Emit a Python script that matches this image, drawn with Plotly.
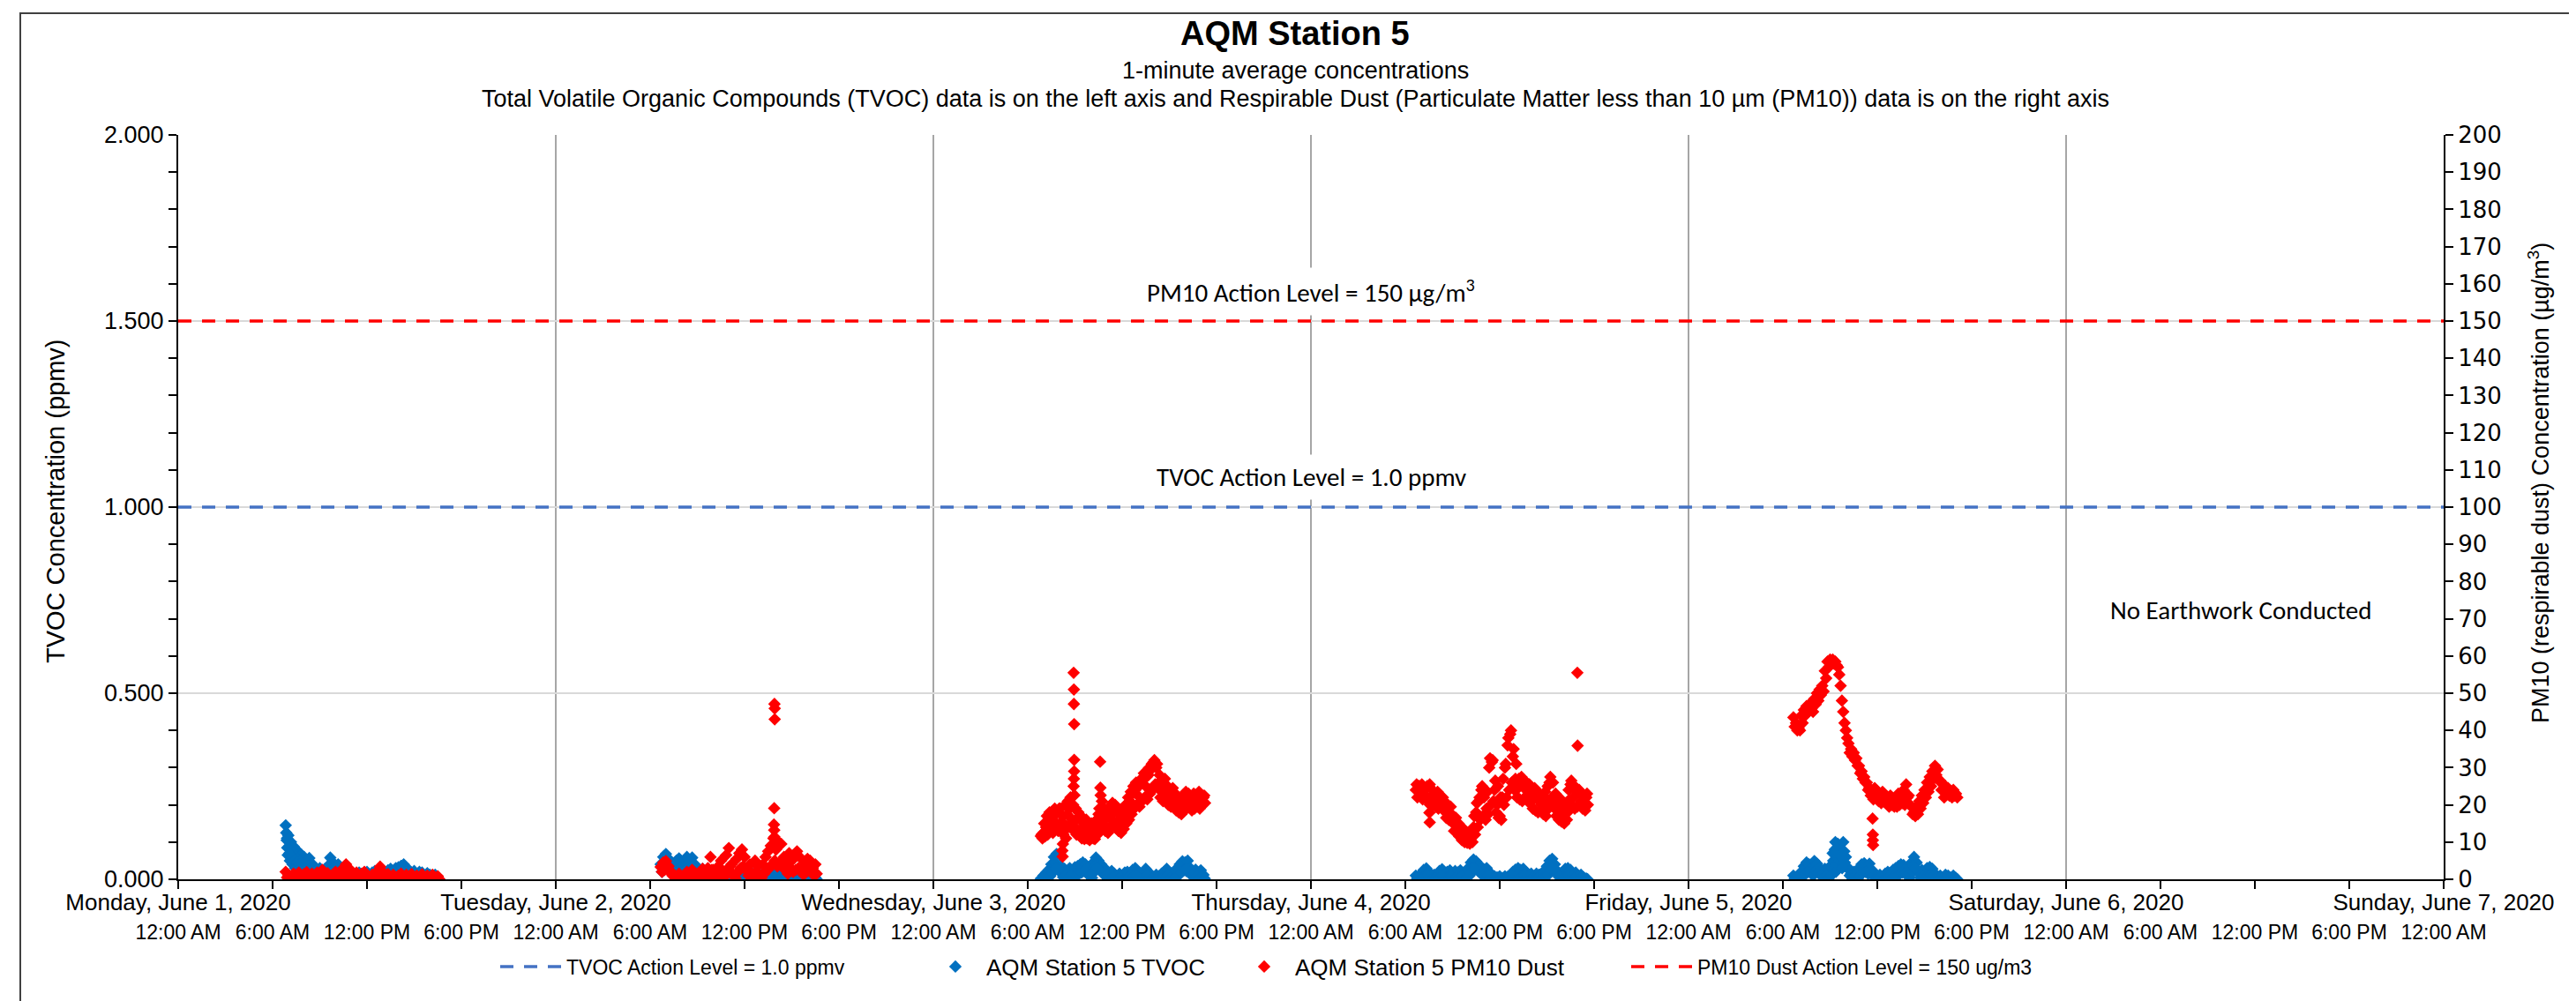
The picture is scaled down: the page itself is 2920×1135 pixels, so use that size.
import pandas as pd
import plotly.graph_objects as go

# ---------------- data ----------------
x_range = ["2020-06-01 00:00", "2020-06-07 00:00"]

day_tick_vals = ["2020-06-01", "2020-06-02", "2020-06-03", "2020-06-04",
                 "2020-06-05", "2020-06-06", "2020-06-07"]
day_tick_text = ["Monday, June 1, 2020", "Tuesday, June 2, 2020", "Wednesday, June 3, 2020",
                 "Thursday, June 4, 2020", "Friday, June 5, 2020", "Saturday, June 6, 2020",
                 "Sunday, June 7, 2020"]
time_tick_text = ["12:00 AM", "6:00 AM", "12:00 PM", "6:00 PM",
                  "12:00 AM", "6:00 AM", "12:00 PM", "6:00 PM",
                  "12:00 AM", "6:00 AM", "12:00 PM", "6:00 PM",
                  "12:00 AM", "6:00 AM", "12:00 PM", "6:00 PM",
                  "12:00 AM", "6:00 AM", "12:00 PM", "6:00 PM",
                  "12:00 AM", "6:00 AM", "12:00 PM", "6:00 PM",
                  "12:00 AM"]
tvoc_ticks = [0.0, 0.5, 1.0, 1.5, 2.0]
pm10_ticks = [0, 10, 20, 30, 40, 50, 60, 70, 80, 90, 100, 110, 120, 130, 140, 150,
              160, 170, 180, 190, 200]

tvoc_action_level = 1.0
pm10_action_level = 150

# ---- readings every 10 minutes (main), plus readings offset by +5 min ("low")
# ---- and +3 min ("high") that show the spread of the 1-minute data
mon_start = "2020-06-01 06:50"
mon_tvoc = [0.145, 0.118, 0.100, 0.088, 0.080, 0.072, 0.066, 0.060, 0.048, 0.057,
            0.042, 0.030, 0.022, 0.030, 0.012, 0.028, 0.035, 0.058, 0.045, 0.020,
            0.040, 0.030, 0.010, 0.025, 0.005, 0.015, 0.002, 0.012, 0.018, 0.004,
            0.015, 0.020, 0.008, 0.018, 0.022, 0.010, 0.020, 0.025, 0.012, 0.024,
            0.028, 0.015, 0.030, 0.032, 0.036, 0.040, 0.030, 0.025, 0.018, 0.022,
            0.010, 0.020, 0.018, 0.008, 0.016, 0.012, 0.004, 0.012, 0.003]
mon_tvoc_low = [0.110, 0.090, 0.075, 0.062, 0.055, 0.048, 0.042, 0.038, 0.030, 0.025,
                0.020, 0.012, 0.006, 0.010, 0.002, 0.008, 0.015, 0.030, 0.020, 0.005,
                0.015, 0.008, 0.000, 0.006, 0.000, 0.004, 0.000, 0.003, 0.006, 0.000,
                0.004, 0.008, 0.000, 0.005, 0.008, 0.002, 0.006, 0.010, 0.003, 0.008,
                0.012, 0.004, 0.012, 0.015, 0.018, 0.020, 0.012, 0.008, 0.004, 0.007,
                0.002, 0.006, 0.005, 0.000, 0.004, 0.002, 0.000, 0.003, 0.000]
mon_pm10 = [2.0, 1.2, 0.6, 1.5, 0.8, 1.8, 0.5, 1.4, 1.9, 0.6,
            1.5, 0.9, 1.8, 1.2, 2.5, 1.0, 1.6, 0.4, 1.2, 2.0,
            1.0, 2.2, 3.0, 4.0, 3.0, 2.0, 1.0, 1.8, 0.8, 1.5,
            2.0, 1.0, 0.3, 1.2, 0.6, 2.2, 3.4, 2.0, 0.8, 1.4,
            0.5, 1.2, 0.3, 1.0, 1.5, 0.4, 1.2, 0.6, 1.4, 0.3,
            1.0, 0.5, 1.3, 0.2, 1.0, 0.5, 1.2, 0.3, 0.8]
mon_pm10_low = [0.5, 0.2, 0.0, 0.3, 0.1, 0.4, 0.0, 0.2, 0.5, 0.1,
                0.3, 0.0, 0.4, 0.2, 0.6, 0.1, 0.3, 0.0, 0.2, 0.5,
                0.2, 0.6, 1.0, 1.5, 1.0, 0.5, 0.2, 0.4, 0.0, 0.3,
                0.5, 0.1, 0.0, 0.2, 0.0, 0.5, 1.0, 0.4, 0.1, 0.3,
                0.0, 0.2, 0.0, 0.1, 0.3, 0.0, 0.2, 0.0, 0.3, 0.0,
                0.2, 0.0, 0.3, 0.0, 0.1, 0.0, 0.2, 0.0, 0.1]

tue_start = "2020-06-02 06:40"
tue_tvoc = [0.040, 0.060, 0.068, 0.055, 0.040, 0.030, 0.050, 0.056, 0.035, 0.052,
            0.060, 0.045, 0.058, 0.040, 0.030, 0.015, 0.028, 0.010, 0.002, 0.012,
            0.005, 0.015, 0.003, 0.010, 0.000, 0.012, 0.004, 0.010, 0.002, 0.014,
            0.005, 0.012, 0.008, 0.016, 0.004, 0.015, 0.010, 0.018, 0.006, 0.016,
            0.012, 0.020, 0.008, 0.018, 0.022, 0.010, 0.025, 0.015, 0.020, 0.008,
            0.022, 0.014, 0.020, 0.006, 0.018, 0.012, 0.020, 0.008, 0.015, 0.004]
tue_tvoc_low = [0.020, 0.035, 0.045, 0.035, 0.022, 0.012, 0.025, 0.030, 0.015, 0.028,
                0.035, 0.022, 0.030, 0.018, 0.010, 0.004, 0.008, 0.002, 0.000, 0.003,
                0.000, 0.004, 0.000, 0.002, 0.000, 0.003, 0.000, 0.002, 0.000, 0.004,
                0.000, 0.003, 0.001, 0.005, 0.000, 0.004, 0.002, 0.006, 0.000, 0.005,
                0.003, 0.007, 0.001, 0.006, 0.008, 0.002, 0.010, 0.004, 0.007, 0.001,
                0.008, 0.003, 0.007, 0.000, 0.006, 0.003, 0.007, 0.001, 0.004, 0.000]
tue_pm10 = [3.3, 4.5, 4.9, 3.5, 2.0, 1.2, 0.6, 1.5, 0.4, 1.0,
            2.0, 0.6, 2.5, 1.2, 0.3, 1.5, 2.8, 1.5, 3.0, 6.0,
            2.5, 1.2, 3.5, 5.0, 2.0, 6.5, 8.4, 4.0, 1.0, 5.5,
            7.0, 8.0, 6.0, 2.5, 4.0, 1.5, 5.0, 3.5, 1.0, 4.0,
            6.0, 7.5, 9.0, 11.0, 8.0, 10.0, 9.5, 6.0, 4.0, 7.0,
            5.0, 6.0, 7.5, 6.0, 3.0, 4.5, 5.5, 5.0, 3.0, 4.0]
tue_pm10_low = [2.0, 2.5, 2.8, 2.0, 1.0, 0.5, 0.2, 0.4, 0.0, 0.3,
                0.6, 0.1, 0.8, 0.3, 0.0, 0.4, 0.8, 0.5, 1.0, 2.5,
                1.0, 0.5, 1.2, 2.0, 0.8, 2.5, 3.5, 1.5, 0.3, 2.0,
                3.0, 3.5, 2.5, 1.0, 1.5, 0.5, 2.0, 1.2, 0.4, 1.5,
                2.5, 3.0, 4.0, 5.0, 3.5, 4.5, 4.0, 2.5, 1.5, 3.0,
                2.0, 2.5, 3.0, 2.5, 1.2, 2.0, 2.5, 2.0, 1.0, 1.5]

wed_start = "2020-06-03 06:50"
wed_tvoc = [0.002, 0.010, 0.018, 0.025, 0.040, 0.060, 0.068, 0.040, 0.020, 0.028,
            0.015, 0.030, 0.020, 0.032, 0.035, 0.040, 0.045, 0.040, 0.030, 0.020,
            0.045, 0.058, 0.050, 0.040, 0.030, 0.025, 0.010, 0.022, 0.015, 0.005,
            0.015, 0.008, 0.018, 0.020, 0.012, 0.025, 0.030, 0.015, 0.005, 0.018,
            0.028, 0.020, 0.010, 0.004, 0.012, 0.008, 0.015, 0.020, 0.028, 0.015,
            0.005, 0.020, 0.030, 0.040, 0.048, 0.045, 0.050, 0.030, 0.020, 0.026,
            0.010, 0.024, 0.012]
wed_tvoc_low = [0.000, 0.002, 0.005, 0.008, 0.018, 0.030, 0.035, 0.018, 0.006, 0.010,
                0.003, 0.010, 0.005, 0.012, 0.014, 0.018, 0.022, 0.016, 0.010, 0.004,
                0.020, 0.030, 0.025, 0.016, 0.010, 0.006, 0.001, 0.006, 0.003, 0.000,
                0.003, 0.001, 0.005, 0.006, 0.002, 0.008, 0.010, 0.003, 0.000, 0.005,
                0.010, 0.005, 0.001, 0.000, 0.003, 0.001, 0.004, 0.006, 0.010, 0.004,
                0.000, 0.006, 0.010, 0.018, 0.024, 0.022, 0.025, 0.010, 0.005, 0.008,
                0.002, 0.007, 0.002]
wed_pm10 = [11.6, 12.5, 14.0, 16.0, 14.5, 17.0, 15.0, 19.0, 15.5, 13.0,
            17.5, 19.0, 16.0, 14.0, 16.5, 13.0, 12.0, 13.5, 11.5, 12.5,
            11.0, 14.0, 17.5, 19.0, 16.0, 14.0, 17.0, 20.0, 18.0, 15.5,
            14.5, 16.5, 18.0, 19.5, 21.0, 23.0, 24.0, 22.5, 25.5, 27.0,
            25.0, 28.0, 29.5, 31.5, 30.0, 26.0, 24.0, 25.0, 23.0, 22.0,
            23.0, 21.5, 20.5, 19.5, 21.0, 22.5, 21.0, 20.5, 22.0, 21.0,
            22.5, 21.5, 22.0]
wed_pm10_high = [12.0, 15.0, 17.0, 18.0, 17.0, 19.0, 18.0,
                 19.0, 17.0, 20.0, 21.0, 22.0, 20.0, 19.0, 18.0, 17.0,
                 15.0, 16.0, 14.0, 15.0, 14.0, 16.0,
                 19.0, 21.0, 19.0, 18.0, 19.0, 20.5, 20.0, 18.0, 17.5, 19.0, 20.0,
                 22.0, 23.5, 25.0, 26.0, 25.0, 27.0,
                 28.5, 27.5, 30.0, 31.0, 32.0, 31.0, 28.0, 26.5,
                 27.0, 25.0, 24.0, 24.5, 23.0, 22.0, 21.5,
                 22.5, 23.5, 23.0, 22.0, 23.0, 22.5, 23.5, 22.5, 22.5]
wed_pm10_low = [11.0, 11.5, 12.0, 13.0, 12.5, 14.0, 13.0,
                14.0, 12.0, 11.0, 14.5, 15.0, 13.0, 12.0, 13.0, 11.0,
                10.8, 11.0, 10.5, 11.5, 10.8, 12.0,
                14.0, 15.0, 13.0, 12.5, 14.0, 15.5, 14.0, 13.0, 12.5, 13.5, 15.0,
                16.0, 17.5, 19.0, 20.0, 19.5, 21.0,
                22.0, 21.5, 23.0, 24.0, 25.5, 24.5, 22.0, 21.0,
                21.0, 20.0, 19.5, 20.0, 18.5, 18.0, 17.5,
                18.5, 19.0, 19.5, 18.5, 19.0, 19.5, 19.0, 20.0, 20.5]

thu_start = "2020-06-04 06:40"
thu_tvoc = [0.010, 0.005, 0.015, 0.025, 0.029, 0.020, 0.008, 0.012, 0.005, 0.022,
            0.027, 0.015, 0.020, 0.024, 0.010, 0.022, 0.018, 0.024, 0.012, 0.020,
            0.030, 0.045, 0.053, 0.048, 0.040, 0.030, 0.025, 0.030, 0.020, 0.012,
            0.008, 0.005, 0.008, 0.003, 0.008, 0.006, 0.010, 0.020, 0.026, 0.030,
            0.025, 0.028, 0.020, 0.012, 0.015, 0.008, 0.015, 0.012, 0.016, 0.020,
            0.035, 0.050, 0.055, 0.040, 0.022, 0.015, 0.020, 0.028, 0.030, 0.025,
            0.012, 0.018, 0.008, 0.012, 0.005, 0.002]
thu_tvoc_low = [0.002, 0.000, 0.004, 0.008, 0.010, 0.005, 0.001, 0.003, 0.000, 0.006,
                0.009, 0.003, 0.006, 0.008, 0.002, 0.006, 0.004, 0.008, 0.002, 0.005,
                0.010, 0.020, 0.028, 0.024, 0.018, 0.010, 0.008, 0.010, 0.005, 0.002,
                0.001, 0.000, 0.001, 0.000, 0.001, 0.000, 0.002, 0.006, 0.009, 0.012,
                0.008, 0.010, 0.006, 0.002, 0.004, 0.001, 0.004, 0.002, 0.004, 0.006,
                0.012, 0.025, 0.030, 0.018, 0.007, 0.003, 0.006, 0.010, 0.012, 0.008,
                0.002, 0.005, 0.001, 0.003, 0.000, 0.000]
thu_pm10 = [24.0, 25.0, 24.0, 23.0, 24.5, 25.0, 22.0, 23.0, 22.5, 21.5,
            21.0, 19.5, 18.0, 17.5, 16.0, 14.5, 13.0, 12.0, 11.0, 10.5,
            10.0, 11.5, 14.0, 18.0, 21.0, 24.0, 22.0, 19.0, 30.0, 31.5,
            24.0, 20.0, 17.0, 22.0, 30.0, 36.0, 39.0, 33.0, 27.0, 24.5,
            26.0, 25.0, 24.0, 23.0, 22.5, 23.5, 22.0, 21.0, 20.0, 19.0,
            21.5, 26.0, 22.0, 19.0, 20.5, 18.0, 16.0, 17.5, 21.0, 25.5,
            22.0, 24.0, 23.5, 21.0, 20.0, 22.0]
thu_pm10_high = [25.5, 25.0, 25.5, 24.5, 25.0, 25.5, 24.0, 23.0, 23.5, 22.5,
                 22.0, 20.5, 20.0, 19.5, 17.0, 16.5, 15.0, 14.0, 13.5, 12.5,
                 12.0, 13.0, 17.0, 20.5, 22.0, 25.0, 24.0, 23.5, 32.5, 32.0,
                 26.5, 25.0, 22.0, 27.0, 31.0, 38.0, 40.0, 35.0, 31.0, 27.0,
                 27.5, 26.5, 26.0, 25.5, 24.0, 24.5, 23.5, 23.0, 22.5, 23.5,
                 25.0, 27.5, 26.0, 23.0, 22.0, 21.5, 19.0, 20.5, 24.0, 26.5,
                 25.0, 24.5, 24.0, 23.0, 22.5, 23.0]
thu_pm10_low = [22.0, 22.5, 21.5, 22.0, 21.0, 20.5, 20.0, 19.5, 19.0, 19.5,
                18.5, 16.5, 16.0, 15.5, 13.0, 12.8, 11.5, 10.5, 10.0, 9.8,
                9.6, 10.0, 12.0, 14.0, 16.0, 17.0, 16.0, 17.5, 20.0, 21.0,
                18.0, 16.5, 16.0, 20.0, 22.0, 24.0, 26.0, 24.0, 22.0, 21.5,
                21.0, 22.0, 21.0, 20.5, 19.0, 18.5, 18.0, 18.5, 17.5, 17.0,
                19.0, 20.0, 19.5, 17.0, 16.0, 15.5, 15.0, 16.0, 18.5, 20.0,
                19.0, 19.5, 20.0, 19.0, 18.5, 20.0]

fri_start = "2020-06-05 06:40"
fri_tvoc = [0.010, 0.005, 0.012, 0.020, 0.035, 0.045, 0.040, 0.030, 0.049, 0.042,
            0.030, 0.020, 0.028, 0.015, 0.035, 0.070, 0.100, 0.095, 0.080, 0.100,
            0.060, 0.030, 0.015, 0.020, 0.012, 0.030, 0.040, 0.043, 0.035, 0.042,
            0.025, 0.010, 0.008, 0.012, 0.005, 0.015, 0.020, 0.012, 0.025, 0.030,
            0.035, 0.040, 0.038, 0.030, 0.020, 0.045, 0.060, 0.045, 0.015, 0.025,
            0.012, 0.030, 0.033, 0.028, 0.015, 0.008, 0.010, 0.005, 0.012, 0.010,
            0.004, 0.010, 0.003]
fri_tvoc_low = [0.002, 0.000, 0.003, 0.006, 0.015, 0.020, 0.018, 0.010, 0.022, 0.018,
                0.010, 0.005, 0.010, 0.003, 0.012, 0.040, 0.060, 0.055, 0.045, 0.060,
                0.030, 0.010, 0.003, 0.006, 0.002, 0.010, 0.018, 0.020, 0.015, 0.018,
                0.008, 0.002, 0.001, 0.003, 0.000, 0.004, 0.006, 0.002, 0.008, 0.010,
                0.014, 0.018, 0.016, 0.010, 0.005, 0.020, 0.030, 0.020, 0.004, 0.008,
                0.002, 0.010, 0.012, 0.010, 0.004, 0.001, 0.002, 0.000, 0.003, 0.002,
                0.000, 0.002, 0.000]
fri_pm10 = [43.5, 42.0, 40.5, 44.0, 45.5, 46.5, 47.0, 46.0, 48.5, 50.0,
            51.0, 52.0, 56.0, 58.5, 59.0, 59.0, 58.5, 57.0, 52.0, 45.0,
            40.0, 36.5, 35.0, 34.0, 32.5, 30.5, 29.0, 27.5, 26.0, 24.5,
            23.5, 24.5, 23.0, 22.5, 23.5, 22.0, 21.0, 22.5, 21.5, 21.0,
            23.0, 22.0, 24.0, 25.5, 22.5, 19.5, 18.0, 19.5, 21.0, 22.5,
            24.0, 26.0, 27.5, 29.0, 30.5, 29.5, 26.5, 24.0, 25.0, 24.5,
            23.5, 24.0, 23.0]
fri_pm10_low = [41.0, 40.0, 40.0, 42.0, 44.0, 45.0, 46.0, 45.0,
                47.0, 48.0, 49.5, 50.5, 54.0, 57.0, 58.0, 58.0, 57.5, 55.0,
                48.0, 42.0, 38.0, 34.0, 33.0, 32.0, 30.5,
                28.5, 27.0, 26.0, 24.0, 22.5, 21.5, 22.0, 21.0, 20.5, 21.0,
                20.5, 19.5, 20.0, 19.5, 19.5, 20.0, 20.5, 20.0, 22.0,
                20.0, 17.5, 17.0, 17.5, 19.0, 20.5,
                22.0, 23.5, 25.0, 27.0, 28.0, 26.5,
                24.0, 22.0, 23.0, 22.5, 22.0, 22.5, 22.0]

# additional individual 1-minute readings (spikes, dips, columns)
pm10_extra_times = ["2020-06-02 13:52", "2020-06-02 13:53", "2020-06-02 13:53", "2020-06-02 13:54",
                    "2020-06-02 13:54", "2020-06-02 13:55", "2020-06-02 13:55",
                    "2020-06-03 08:12", "2020-06-03 08:13", "2020-06-03 08:14",
                    "2020-06-03 08:55", "2020-06-03 08:55", "2020-06-03 08:56", "2020-06-03 08:56",
                    "2020-06-03 08:56", "2020-06-03 08:57", "2020-06-03 08:57", "2020-06-03 08:57",
                    "2020-06-03 08:58",
                    "2020-06-03 10:36", "2020-06-03 10:37", "2020-06-03 10:38",
                    "2020-06-04 07:32", "2020-06-04 07:33", "2020-06-04 07:34",
                    "2020-06-04 16:56", "2020-06-04 16:57",
                    "2020-06-05 11:42", "2020-06-05 11:43", "2020-06-05 11:43", "2020-06-05 11:44"]
pm10_extra_vals = [14.7, 19.1, 13.2, 47.1, 11.4, 45.9, 43.0,
                   7.7, 6.1, 9.5,
                   55.5, 25.0, 51.0, 47.1, 27.0, 41.7, 32.1, 29.0, 22.6,
                   31.6, 24.6, 22.6,
                   17.9, 15.3, 20.0,
                   55.5, 35.9,
                   16.3, 12.0, 10.5, 9.2]

tvoc_extra_times = ["2020-06-01 06:52", "2020-06-01 06:54", "2020-06-01 06:56", "2020-06-01 06:58",
                    "2020-06-01 07:04", "2020-06-01 07:06", "2020-06-01 07:14", "2020-06-01 07:16",
                    "2020-06-01 07:24", "2020-06-01 07:26", "2020-06-01 07:34", "2020-06-01 07:44",
                    "2020-06-01 07:54", "2020-06-01 08:04", "2020-06-01 08:14", "2020-06-01 08:24",
                    "2020-06-01 09:44", "2020-06-01 09:46", "2020-06-01 14:24",
                    "2020-06-02 06:58", "2020-06-02 07:04", "2020-06-02 08:16", "2020-06-02 08:24",
                    "2020-06-02 08:36",
                    "2020-06-03 07:44", "2020-06-03 07:48", "2020-06-03 10:18", "2020-06-03 10:24",
                    "2020-06-03 16:04",
                    "2020-06-04 10:16", "2020-06-04 10:24", "2020-06-04 15:16", "2020-06-04 15:24",
                    "2020-06-05 09:12", "2020-06-05 09:16", "2020-06-05 09:18", "2020-06-05 09:22",
                    "2020-06-05 09:24", "2020-06-05 09:26", "2020-06-05 09:34", "2020-06-05 09:36",
                    "2020-06-05 09:44", "2020-06-05 09:46", "2020-06-05 09:54", "2020-06-05 09:56",
                    "2020-06-05 14:18", "2020-06-05 14:24"]
tvoc_extra_vals = [0.125, 0.105, 0.085, 0.065,
                   0.070, 0.050, 0.060, 0.040,
                   0.050, 0.030, 0.045, 0.040,
                   0.035, 0.030, 0.035, 0.030,
                   0.035, 0.025, 0.025,
                   0.045, 0.030, 0.035, 0.030,
                   0.035,
                   0.045, 0.030, 0.035, 0.030,
                   0.028,
                   0.030, 0.028, 0.030, 0.030,
                   0.050, 0.030, 0.080, 0.020,
                   0.060, 0.040, 0.070, 0.050,
                   0.060, 0.030, 0.075, 0.045,
                   0.035, 0.030]


# ---------------- assemble ----------------
def stamps(start, n, offset_min=0):
    first = pd.Timestamp(start) + pd.Timedelta(minutes=offset_min)
    return list(pd.date_range(first, periods=n, freq="10min"))


tvoc_sets = [(mon_start, mon_tvoc, 0), (mon_start, mon_tvoc_low, 5),
             (tue_start, tue_tvoc, 0), (tue_start, tue_tvoc_low, 5),
             (wed_start, wed_tvoc, 0), (wed_start, wed_tvoc_low, 5),
             (thu_start, thu_tvoc, 0), (thu_start, thu_tvoc_low, 5),
             (fri_start, fri_tvoc, 0), (fri_start, fri_tvoc_low, 5)]
pm10_sets = [(mon_start, mon_pm10, 0), (mon_start, mon_pm10_low, 5),
             (tue_start, tue_pm10, 0), (tue_start, tue_pm10_low, 5),
             (wed_start, wed_pm10, 0), (wed_start, wed_pm10_high, 3), (wed_start, wed_pm10_low, 6),
             (thu_start, thu_pm10, 0), (thu_start, thu_pm10_high, 3), (thu_start, thu_pm10_low, 6),
             (fri_start, fri_pm10, 0), (fri_start, fri_pm10_low, 5)]

tvoc_x, tvoc_y = [], []
for s, vals, off in tvoc_sets:
    tvoc_x += stamps(s, len(vals), off)
    tvoc_y += vals
tvoc_x += list(pd.to_datetime(tvoc_extra_times))
tvoc_y += tvoc_extra_vals

pm10_x, pm10_y = [], []
for s, vals, off in pm10_sets:
    pm10_x += stamps(s, len(vals), off)
    pm10_y += vals
pm10_x += list(pd.to_datetime(pm10_extra_times))
pm10_y += pm10_extra_vals

time_tick_vals = list(pd.date_range(x_range[0], x_range[1], freq="6h"))

BLUE = "#0070C0"
RED = "#FF0000"
ACT_BLUE = "#4472C4"
ARIAL = "Arial, Liberation Sans, sans-serif"
CALIBRI = "Calibri, Carlito, Lato, sans-serif"
MSIZE = 11

fig = go.Figure()
fig.add_trace(go.Scatter(
    x=x_range, y=[tvoc_action_level, tvoc_action_level], xaxis="x2", yaxis="y",
    mode="lines", line=dict(color=ACT_BLUE, width=3.5, dash="15px,12px"),
    name="TVOC Action Level = 1.0 ppmv", legend="legend", showlegend=True))
fig.add_trace(go.Scatter(
    x=tvoc_x, y=tvoc_y, xaxis="x", yaxis="y", mode="markers",
    marker=dict(symbol="diamond", size=MSIZE, color=BLUE, line=dict(width=0)),
    name="AQM Station 5 TVOC", legend="legend2", showlegend=True))
fig.add_trace(go.Scatter(
    x=pm10_x, y=pm10_y, xaxis="x", yaxis="y2", mode="markers",
    marker=dict(symbol="diamond", size=MSIZE, color=RED, line=dict(width=0)),
    name="AQM Station 5 PM10 Dust", legend="legend3", showlegend=True))
fig.add_trace(go.Scatter(
    x=x_range, y=[pm10_action_level, pm10_action_level], xaxis="x", yaxis="y2",
    mode="lines", line=dict(color=RED, width=3.5, dash="15px,12px"),
    name="PM10 Dust Action Level = 150 ug/m3", legend="legend4", showlegend=True))

L, R, T, B = 194, 158, 145, 146
W, H = 2920, 1135
PW, PH = W - L - R, H - T - B


def px(xp):
    return (xp - L) / PW


def py(yp):
    return (H - B - yp) / PH


axis_common = dict(showline=True, linecolor="black", linewidth=2, zeroline=False,
                   ticks="outside", ticklen=9, tickwidth=2, tickcolor="black")

fig.update_layout(
    width=W, height=H,
    margin=dict(l=L, r=R, t=T, b=B),
    paper_bgcolor="white", plot_bgcolor="white",
    showlegend=True,
    font=dict(family=ARIAL, color="black"),
    xaxis=dict(type="date", range=x_range, tickmode="array", tickvals=day_tick_vals,
               ticktext=day_tick_text, showgrid=True, gridcolor="#A6A6A6", gridwidth=2,
               tickfont=dict(size=26, family=ARIAL, color="black"), ticklabelstandoff=-7,
               minor=dict(tickmode="array", tickvals=time_tick_vals, ticks="outside",
                          ticklen=9, tickwidth=2, tickcolor="black", showgrid=False),
               **axis_common),
    xaxis2=dict(type="date", range=x_range, overlaying="x", anchor="y", side="bottom",
                tickmode="array", tickvals=time_tick_vals, ticktext=time_tick_text,
                showgrid=False, showline=False, zeroline=False, ticks="",
                tickfont=dict(size=23, family=ARIAL, color="black"), ticklabelstandoff=44),
    yaxis=dict(range=[0, 2], tickmode="array", tickvals=tvoc_ticks, tickformat=".3f",
               showgrid=True, gridcolor="#D9D9D9", gridwidth=2,
               tickfont=dict(size=27, family=ARIAL, color="black"),
               minor=dict(tickmode="linear", tick0=0, dtick=0.1, ticks="outside", ticklen=9,
                          tickwidth=2, tickcolor="black", showgrid=False),
               **axis_common),
    yaxis2=dict(range=[0, 200], overlaying="y", side="right", anchor="x", tickmode="array",
                tickvals=pm10_ticks, showgrid=False,
                tickfont=dict(size=26, family="DejaVu Sans, Verdana, sans-serif", color="black"),
                **axis_common),
)

legend_common = dict(orientation="h", yanchor="middle", xanchor="left", y=py(1088),
                     bgcolor="rgba(0,0,0,0)")
fig.update_layout(
    legend=dict(x=px(554), itemwidth=70, font=dict(size=23, family=ARIAL, color="black"),
                **legend_common),
    legend2=dict(x=px(1040), itemwidth=60, font=dict(size=26, family=ARIAL, color="black"),
                 **legend_common),
    legend3=dict(x=px(1390), itemwidth=60, font=dict(size=26, family=ARIAL, color="black"),
                 **legend_common),
    legend4=dict(x=px(1836), itemwidth=70, font=dict(size=23, family=ARIAL, color="black"),
                 **legend_common),
)

ann = [
    dict(text="<b>AQM Station 5</b>", x=px(1460), y=py(30), font=dict(size=38, family=ARIAL)),
    dict(text="1-minute average concentrations", x=px(1460), y=py(72), font=dict(size=27, family=ARIAL)),
    dict(text="Total Volatile Organic Compounds (TVOC) data is on the left axis and Respirable Dust "
              "(Particulate Matter less than 10 µm (PM10)) data is on the right axis",
         x=px(1460), y=py(104), font=dict(size=27, family=ARIAL)),
    dict(text="TVOC Concentration (ppmv)", x=px(55), y=py(561), textangle=-90,
         font=dict(size=29, family=ARIAL)),
    dict(text="PM10 (respirable dust) Concentration (µg/m<sup>3</sup>)", x=px(2870), y=py(540),
         textangle=-90, font=dict(size=27, family=ARIAL)),
]
for a in ann:
    a.update(xref="paper", yref="paper", showarrow=False, xanchor="center", yanchor="middle")
fig.update_layout(annotations=ann)

fig.add_annotation(text="PM10 Action Level = 150 µg/m<sup>3</sup>", x="2020-06-04", y=158.0,
                   xref="x", yref="y2", showarrow=False, bgcolor="white", borderpad=7,
                   font=dict(size=29, family=CALIBRI, color="black"))
fig.add_annotation(text="TVOC Action Level = 1.0 ppmv", x="2020-06-04", y=1.08,
                   xref="x", yref="y", showarrow=False, bgcolor="white", borderpad=7,
                   font=dict(size=29, family=CALIBRI, color="black"))
fig.add_annotation(text="No Earthwork Conducted", x="2020-06-06 11:06", y=0.722,
                   xref="x", yref="y", showarrow=False,
                   font=dict(size=29, family=CALIBRI, color="black"))

# outer chart border (bottom edge lies below the visible page)
fig.add_shape(type="rect", xref="paper", yref="paper",
              x0=px(15), x1=px(2907), y0=py(1160), y1=py(7),
              line=dict(color="#404040", width=2), fillcolor="rgba(0,0,0,0)", layer="below")

fig.write_html("out.html")
